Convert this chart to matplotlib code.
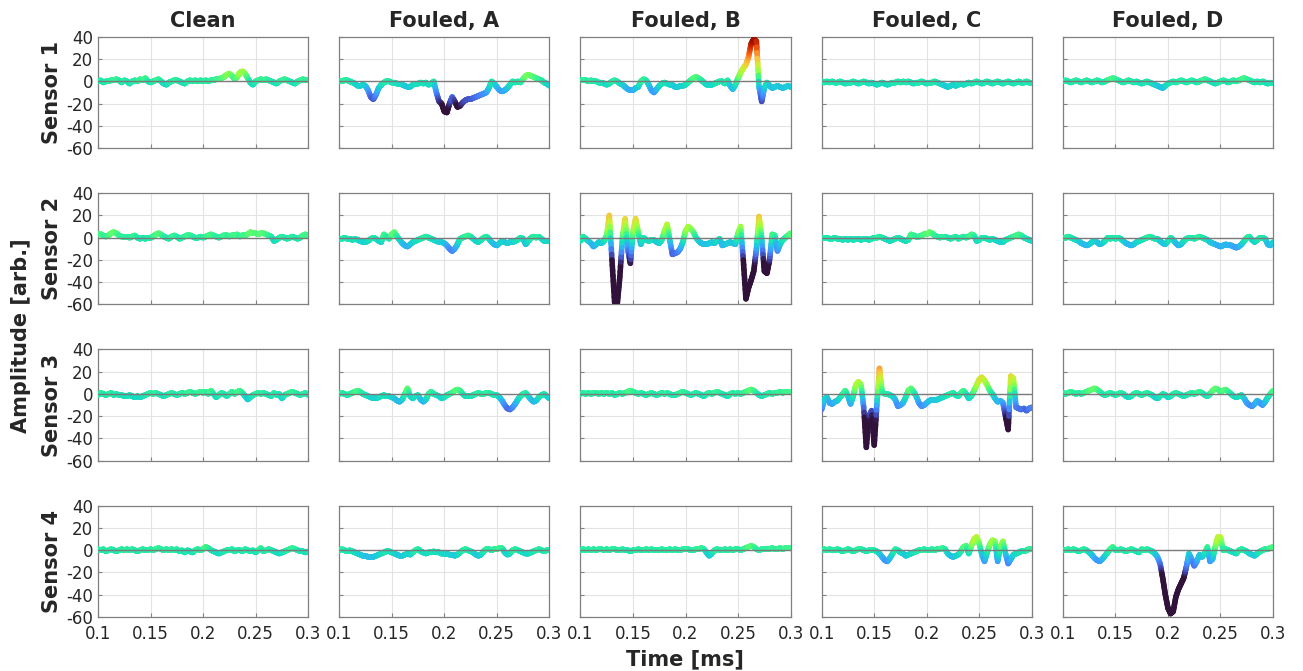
import numpy as np
import matplotlib
matplotlib.use('Agg')
from matplotlib import pyplot as plt
from matplotlib.collections import LineCollection
from matplotlib.colors import Normalize

# time axis, 0.1 .. 0.3 ms sampled every 0.0025 ms
time_ms = 0.1 + 0.0025 * np.arange(81)

columns = ['Clean', 'Fouled, A', 'Fouled, B', 'Fouled, C', 'Fouled, D']
sensors = ['Sensor 1', 'Sensor 2', 'Sensor 3', 'Sensor 4']
x_ticks = [0.1, 0.15, 0.2, 0.25, 0.3]
x_labels = ['0.1', '0.15', '0.2', '0.25', '0.3']
y_ticks = [-60, -40, -20, 0, 20, 40]

# sensor 1
s1_clean = [0, 1, -1, 0, 0, 1, 1, 2, 1, -1,
            1, 0, -2, 0, 1, 0, 2, 1, 3, 0,
            -1, 0, 1, 2, 0, -2, -3, -1, 0, 1,
            1, 0, -1, -2, 0, 1, 0, 1, 0, 1,
            0, 1, 0, 1, 1, 2, 2, 3, 4, 6,
            7, 5, 2, 4, 8, 9, 7, 3, -1, -3,
            0, 1, 2, 1, 2, 1, 0, -1, -2, 0,
            1, 2, 1, 0, -1, -2, 0, 1, 2, 1,
            1]
s1_fa = [0, 0, 1, 1, 0, -1, -2, -4, -4, -3,
         -4, -8, -14, -16, -12, -6, -3, -1, 0, 0,
         -1, -1, -2, -2, -3, -4, -5, -5, -3, -2,
         -2, -1, -2, -1, -3, -2, 0, -10, -18, -20,
         -27, -28, -20, -14, -18, -23, -22, -19, -17, -16,
         -16, -15, -14, -13, -12, -11, -10, -6, 0, -2,
         -5, -8, -9, -8, -6, -3, 0, -1, 0, -1,
         2, 5, 6, 5, 4, 3, 2, 1, -1, -2,
         -4]
s1_fb = [1, 1, 1, 0, 1, 0, 0, -1, -1, -2,
         -3, -2, 0, 1, 0, -2, -3, -5, -7, -8,
         -8, -6, -5, 0, 2, 1, -3, -8, -10, -7,
         -4, -2, -1, -2, -3, -3, -5, -5, -4, -4,
         -3, -1, 1, 3, 4, 3, 1, -1, -3, -3,
         -3, -2, -1, 0, 0, -2, 1, -4, -7, -3,
         3, 8, 12, 15, 22, 34, 38, 36, -5, -18,
         -6, -1, -4, -6, -5, -4, -5, -6, -5, -4,
         -5]
s1_fc = [0, -1, 0, -1, 0, -1, -1, 0, -1, -2,
         -1, -1, 0, -1, -2, -1, 0, -1, -2, -1,
         -2, -3, -2, -1, -2, -3, -2, -1, -1, 0,
         -1, 0, -1, 0, -1, -2, -1, -1, 0, -1,
         -2, -1, -1, 0, -1, -2, -3, -4, -5, -4,
         -3, -4, -3, -2, -3, -2, -1, -2, -1, 0,
         -1, -2, -1, 0, -1, -2, -1, 0, -1, -2,
         -1, 0, -1, -2, -1, 0, -1, -1, 0, -1,
         -1]
s1_fd = [0, 1, 0, -1, 0, 1, 0, -1, 0, 1,
         0, -1, 0, 1, 0, -1, 0, 1, 2, 3,
         2, 1, 0, -1, 0, 1, 0, -1, 0, -1,
         -2, -1, 0, -1, -2, -3, -4, -5, -6, -4,
         -2, -1, 0, -1, 0, 1, 0, -1, 0, 1,
         0, -1, 0, 1, 2, 1, 0, -1, -2, -1,
         0, 1, 0, -1, 0, 1, 0, 1, 2, 3,
         2, 1, 0, -1, 0, -1, 0, -1, -2, -1,
         -1]

# sensor 2
s2_clean = [3, 3, 2, 1, 2, 4, 5, 4, 2, 1,
            1, 1, 0, 1, 2, 0, -1, 0, -1, 0,
            0, 1, 3, 4, 3, 1, 0, -1, 1, 2,
            1, -1, 0, 1, 2, 2, 1, 0, 0, 1,
            0, 1, 2, 3, 2, 1, 0, 1, 2, 2,
            1, 2, 2, 3, 1, 2, 2, 3, 5, 4,
            4, 3, 4, 4, 3, 2, 1, -3, -2, 0,
            1, 0, -1, 0, 1, 0, -1, 0, 2, 3,
            2]
s2_fa = [-1, -1, 0, -1, -1, -2, -1, -2, -3, -4,
         -4, -3, -1, 0, -1, -3, -4, 3, 1, -1,
         3, 5, 1, -2, -5, -7, -8, -6, -4, -3,
         -2, -1, 0, 1, 0, -1, -2, -3, -4, -4,
         -5, -7, -10, -12, -10, -6, -1, 0, 1, 2,
         1, -1, -3, -4, -2, 0, 1, -1, -4, -6,
         -7, -5, -3, -4, -5, -4, -4, -3, -2, 0,
         -1, -6, -3, 0, 1, 0, 1, -1, -3, -3,
         -3]
s2_fb = [-3, 1, -1, -3, -5, -8, -6, -4, -5, -3,
         2, 20, -20, -58, -60, -35, 0, 17, -10, -23,
         5, 17, 5, -6, 0, -2, -3, -2, -2, -4,
         -5, -2, 6, 12, -2, -15, -14, -13, -10, -4,
         6, 10, 8, 5, 0, -3, -5, -6, -6, -5,
         -4, -5, -3, -1, -7, -6, -5, -4, -5, -6,
         4, 10, -20, -55, -45, -38, -30, -10, 19, 0,
         -30, -32, -20, 3, 2, -12, -6, -2, 0, 2,
         4]
s2_fc = [0, 0, 0, -1, -1, 0, -1, -1, -2, -1,
         -2, -1, -2, -1, -1, -2, -1, -1, -2, -1,
         0, 0, 1, 0, -1, -2, -3, -2, -1, 0,
         -1, -2, -3, -2, 3, 2, 1, 1, 2, 3,
         3, 5, 4, 2, 1, 0, 1, 1, 0, -1,
         0, 1, -1, 0, 1, 0, 1, 3, 2, -3,
         -2, 0, 0, -1, -2, -1, -2, -3, -4, -4,
         -2, -1, 0, 1, 2, 3, 2, 0, -1, -2,
         -3]
s2_fd = [0, 0, 1, 0, -1, -2, -3, -5, -6, -7,
         -6, -4, -3, -4, -6, -5, -3, 0, -1, 0,
         -1, 0, -1, -3, -5, -6, -7, -6, -4, -3,
         -2, -1, 0, 1, 0, -1, -1, -3, -5, -6,
         -3, 0, -2, -5, -7, -6, -3, -1, 0, 0,
         -1, 0, 1, 0, -1, -2, -4, -5, -6, -7,
         -8, -7, -6, -7, -7, -8, -9, -8, -6, -3,
         0, 1, -2, -4, -2, 0, 0, -1, -6, -7,
         -4]

# sensor 3
s3_clean = [-1, 1, 0, -1, 0, 1, -1, 0, -1, -1,
            -2, -2, -1, -2, -3, -2, -3, -2, -1, 0,
            1, 0, 1, 0, -1, -2, -1, 0, 1, 0,
            -1, 0, 1, 0, 1, 2, 1, 0, 1, 2,
            1, 2, 0, 3, 0, -3, -1, 1, 0, -2,
            0, 2, 0, 2, 3, 1, -2, -5, -3, -1,
            0, 1, 0, 1, 0, -1, -2, 1, -1, 0,
            -4, -1, 0, 1, 2, 1, 0, -1, 0, 1,
            -1]
s3_fa = [0, 1, 0, -1, 0, 1, 2, 3, 2, 0,
         -1, -2, -3, -4, -4, -3, -2, -1, -2, -2,
         -3, -4, -6, -7, -5, 0, 5, -2, -4, -2,
         -1, -5, -7, -5, 0, 2, 0, -1, -2, -4,
         -3, -1, 0, 1, 3, 4, 3, 0, -2, -2,
         -2, -1, 0, 1, 0, 0, 1, 1, 0, -1,
         -1, -3, -6, -10, -13, -14, -12, -9, -5, -2,
         0, 1, -2, -5, -7, -6, -3, -1, 0, -2,
         -4]
s3_fb = [0, 1, 0, 1, 0, 1, 1, 0, 1, 0,
         1, 0, 1, -1, 0, 1, 0, 1, 2, 3,
         2, 1, 0, 1, 0, -1, 0, 1, 0, -1,
         0, 1, 0, 1, 0, -1, -1, 0, 1, 2,
         1, 0, -1, 0, 1, 0, -1, -2, 0, 1,
         0, 1, 2, 1, 0, -1, -2, 0, 1, 0,
         1, 0, 1, 2, 3, 4, 3, 1, -1, -2,
         -1, 0, 1, 0, 1, 1, 2, 1, 2, 2,
         2]
s3_fc = [-14, -5, -3, -8, -9, -7, -6, -3, 0, 3,
         -2, -9, -2, 8, 11, 8, -12, -48, -20, -15,
         -46, -10, 23, 2, 0, 0, -1, -2, -5, -11,
         -10, -8, -3, 3, 5, 2, -2, -8, -11, -10,
         -8, -6, -5, -5, -5, -4, -3, -2, -1, 0,
         1, -1, -2, 1, 3, 0, -4, -2, 3, 8,
         13, 15, 12, 8, 3, 0, -4, -7, -6, -8,
         -20, -32, 16, 14, -12, -13, -14, -13, -15, -13,
         -12]
s3_fd = [1, 0, 1, 2, 1, 0, 1, 0, 1, 2,
         3, 4, 5, 4, 2, 0, -1, 0, 1, 0,
         -1, 0, 1, 0, -2, -3, -2, 0, 1, 0,
         -1, 0, 1, 0, -1, -3, -4, -2, 0, -1,
         -3, -2, 0, 1, 0, -1, -2, -1, 0, 1,
         0, 1, 2, 1, -1, -2, 0, 3, 5, 4,
         2, 3, 4, 2, 0, -2, -3, -2, -1, -4,
         -8, -10, -11, -9, -6, -8, -10, -7, -3, 0,
         3]

# sensor 4
s4_clean = [1, 0, 1, -1, 0, 1, 0, -1, 0, 1,
            0, 1, 0, 1, 0, -1, 0, 1, 0, 0,
            1, 0, 1, 2, 1, 0, 1, 0, 1, 0,
            1, -1, 0, -2, 0, -1, -2, 0, 1, 0,
            1, 3, 2, 0, -1, -2, -3, -2, -1, 0,
            0, 1, -1, 0, 0, -1, 1, 0, -1, 0,
            -2, 0, 2, -1, 0, 1, 0, -1, -2, -3,
            -2, -1, 0, 1, 2, 1, 0, -1, -1, -2,
            -1]
s4_fa = [0, 1, 0, -1, 0, -1, -2, -3, -4, -5,
         -5, -6, -6, -6, -5, -4, -3, -2, -1, -1,
         -2, -3, -4, -5, -5, -4, -3, -4, -2, 0,
         1, -1, -2, -3, -2, -2, -1, -2, -2, -3,
         -3, -3, -4, -4, -5, -4, -2, 0, 1, 0,
         -1, -2, -4, -5, -4, -1, 1, 1, 0, 1,
         1, 2, 2, -2, -4, -3, 0, 1, 0, -1,
         -2, -3, -3, -2, -1, 0, 1, 0, -1, 0,
         0]
s4_fb = [0, 1, 0, 1, 0, 1, 0, 1, 1, 0,
         1, 0, 1, 1, 0, 0, 1, 0, 0, -1,
         0, 0, 1, 0, 0, 1, 0, 1, 0, 0,
         0, 1, 0, 0, 1, 0, 1, 0, 0, 1,
         1, 1, 0, 0, 1, 1, 2, 1, -2, -5,
         -3, 0, 1, 0, 0, 1, 0, 1, 0, 1,
         1, 0, 1, 2, 3, 4, 3, 1, 0, 1,
         1, 1, 1, 2, 1, 1, 2, 1, 2, 2,
         2]
s4_fc = [0, 1, 0, 1, 0, 0, 1, 0, -1, 0,
         1, 0, -1, 0, 1, 1, 0, -1, 0, 0,
         0, -1, -3, -6, -9, -10, -7, -3, 1, 0,
         -2, -3, -5, -4, -3, -2, -1, 0, 0, 1,
         0, 0, 1, 0, 1, 1, 2, 1, -3, -5,
         -6, -5, -4, -1, 3, 4, -3, 4, 10, 12,
         6, -4, -10, -2, 5, 9, 8, -10, 3, 8,
         -3, -12, -8, -4, -3, -2, -1, -1, 0, 1,
         1]
s4_fd = [0, 0, 1, 0, 1, 0, -1, 0, 1, 0,
         -2, -4, -7, -9, -10, -8, -5, -2, 1, 3,
         0, 0, 1, 0, -1, 0, 1, 0, -1, -2,
         1, 0, 1, 0, -1, -3, -6, -12, -25, -40,
         -52, -57, -55, -42, -35, -30, -25, -15, -3, -8,
         -14, -10, -4, -6, -3, 3, -10, -8, 3, 12,
         12, 0, 1, 0, -1, -2, -3, 0, 1, 0,
         -1, -3, -4, -5, -3, -1, 0, 1, 1, 2,
         3]

signals = [
    [s1_clean, s1_fa, s1_fb, s1_fc, s1_fd],
    [s2_clean, s2_fa, s2_fb, s2_fc, s2_fd],
    [s3_clean, s3_fa, s3_fb, s3_fc, s3_fd],
    [s4_clean, s4_fa, s4_fb, s4_fc, s4_fd],
]

norm = Normalize(vmin=-22, vmax=40)


def colored_line(ax, t, v, sub=8):
    # split each segment in short pieces so the colour follows the amplitude
    segs, vals = [], []
    for i in range(len(t) - 1):
        ts = np.linspace(t[i], t[i + 1], sub + 1)
        vs = np.linspace(v[i], v[i + 1], sub + 1)
        for k in range(sub):
            segs.append([(ts[k], vs[k]), (ts[k + 1], vs[k + 1])])
            vals.append(0.5 * (vs[k] + vs[k + 1]))
    lc = LineCollection(segs, cmap='turbo', norm=norm, linewidth=4,
                        capstyle='round', joinstyle='round', zorder=3)
    lc.set_array(np.array(vals))
    ax.add_collection(lc)


fig, axes = plt.subplots(4, 5, figsize=(13.03, 6.71), dpi=100)
fig.subplots_adjust(left=0.0752, right=0.977, top=0.945, bottom=0.0805,
                    wspace=0.148, hspace=0.405)

for r in range(4):
    for c in range(5):
        ax = axes[r, c]
        colored_line(ax, time_ms, np.array(signals[r][c], dtype=float))
        ax.axhline(0, color='#7a7a7a', linewidth=1.0, zorder=4)
        ax.set_xlim(0.1, 0.3)
        ax.set_ylim(-60, 40)
        ax.set_xticks(x_ticks)
        ax.set_yticks(y_ticks)
        ax.grid(True, color='#e3e3e3', linewidth=0.8)
        ax.set_axisbelow(True)
        ax.tick_params(direction='in', length=3, color='#808080',
                       labelsize=12, labelcolor='#262626')
        ax.tick_params(axis='x', pad=6)
        for sp in ax.spines.values():
            sp.set_color('#808080')
            sp.set_linewidth(0.9)
        if r == 3:
            ax.set_xticklabels(x_labels)
        else:
            ax.set_xticklabels([])
        if c == 0:
            ax.set_yticklabels([str(y) for y in y_ticks])
            ax.set_ylabel(sensors[r], fontsize=15, fontweight='bold',
                          color='#262626', labelpad=3)
        else:
            ax.set_yticklabels([])
        if r == 0:
            ax.set_title(columns[c], fontsize=15, fontweight='bold',
                         color='#262626', pad=7)

fig.text(0.016, 0.5, 'Amplitude [arb.]', rotation=90, ha='center',
         va='center', fontsize=15, fontweight='bold', color='#262626')
fig.text(0.526, 0.018, 'Time [ms]', ha='center', va='center',
         fontsize=15, fontweight='bold', color='#262626')

fig.savefig('out.png', dpi=100)
